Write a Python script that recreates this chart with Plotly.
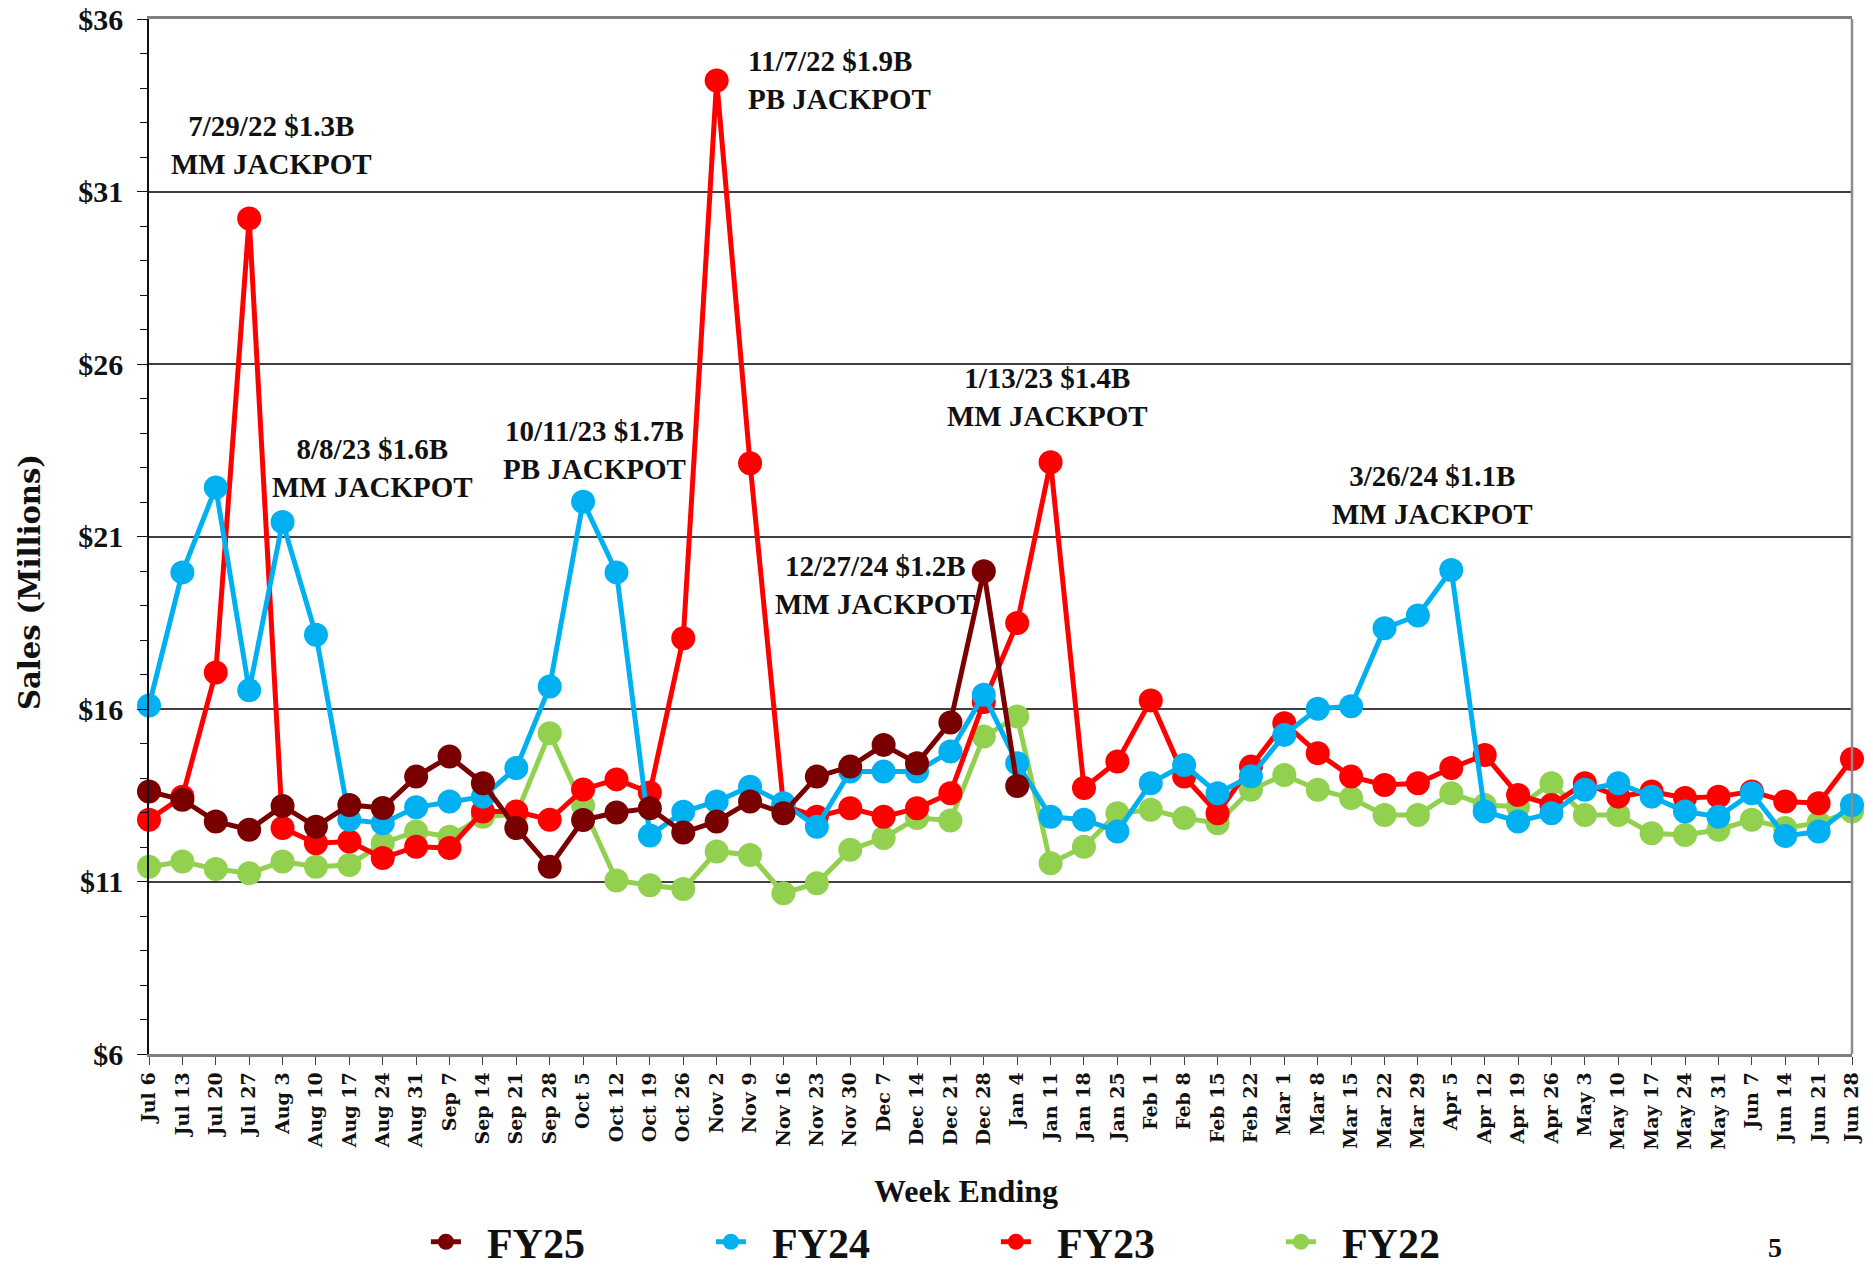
import plotly.graph_objects as go

weeks = ["Jul 6", "Jul 13", "Jul 20", "Jul 27", "Aug 3", "Aug 10", "Aug 17", "Aug 24", "Aug 31",
         "Sep 7", "Sep 14", "Sep 21", "Sep 28", "Oct 5", "Oct 12", "Oct 19", "Oct 26",
         "Nov 2", "Nov 9", "Nov 16", "Nov 23", "Nov 30", "Dec 7", "Dec 14", "Dec 21", "Dec 28",
         "Jan 4", "Jan 11", "Jan 18", "Jan 25", "Feb 1", "Feb 8", "Feb 15", "Feb 22",
         "Mar 1", "Mar 8", "Mar 15", "Mar 22", "Mar 29", "Apr 5", "Apr 12", "Apr 19", "Apr 26",
         "May 3", "May 10", "May 17", "May 24", "May 31", "Jun 7", "Jun 14", "Jun 21", "Jun 28"]

fy25 = [13.61, 13.37, 12.74, 12.50, 13.19, 12.59, 13.22, 13.13, 14.04, 14.62, 13.85, 12.55,
        11.43, 12.78, 13.0, 13.12, 12.42, 12.74, 13.32, 12.98, 14.04, 14.33, 14.96, 14.43,
        15.61, 19.99, 13.77]

fy24 = [16.10, 19.96, 22.42, 16.54, 21.42, 18.15, 12.79, 12.69, 13.15, 13.32, 13.46, 14.29,
        16.65, 22.01, 19.96, 12.33, 13.02, 13.32, 13.75, 13.27, 12.59, 14.19, 14.19, 14.19,
        14.77, 16.41, 14.43, 12.88, 12.79, 12.45, 13.85, 14.38, 13.56, 14.05, 15.25, 16.01,
        16.08, 18.34, 18.71, 20.03, 13.03, 12.74, 12.98, 13.66, 13.85, 13.46, 13.03, 12.88,
        13.56, 12.32, 12.45, 13.22]

fy23 = [12.79, 13.46, 17.06, 30.22, 12.55, 12.11, 12.16, 11.68, 12.01, 11.97, 13.03, 13.03,
        12.79, 13.67, 13.96, 13.58, 18.05, 34.22, 23.12, 13.2, 12.88, 13.12, 12.88, 13.12,
        13.56, 16.2, 18.49, 23.15, 13.71, 14.48, 16.25, 14.04, 12.98, 14.33, 15.59, 14.72,
        14.04, 13.80, 13.85, 14.29, 14.67, 13.51, 13.22, 13.85, 13.46, 13.61, 13.42, 13.46,
        13.61, 13.32, 13.27, 14.55]

fy22 = [11.43, 11.58, 11.36, 11.24, 11.58, 11.43, 11.48, 12.11, 12.45, 12.30, 12.88, 12.95,
        15.30, 13.2, 11.03, 10.89, 10.78, 11.87, 11.77, 10.66, 10.95, 11.92, 12.26, 12.84,
        12.77, 15.2, 15.78, 11.53, 12.01, 12.98, 13.08, 12.84, 12.69, 13.66, 14.09, 13.66,
        13.42, 12.93, 12.93, 13.56, 13.22, 13.17, 13.85, 12.93, 12.93, 12.40, 12.35, 12.50,
        12.79, 12.55, 12.7, 13.03]

series = [("FY22", fy22, "#92D050"), ("FY23", fy23, "#FF0000"),
          ("FY24", fy24, "#00B0F0"), ("FY25", fy25, "#7A0000")]

notes = [
    ("7/29/22 $1.3B<br>MM JACKPOT", 3.68, 32.36, "center"),
    ("11/7/22 $1.9B<br>PB JACKPOT", 17.88, 34.23, "left"),
    ("7/19/23 $1.0B<br>PB JACKPOT", -0.16, 23.58, "center"),
    ("8/8/23 $1.6B<br>MM JACKPOT", 6.68, 23.0, "center"),
    ("10/11/23 $1.7B<br>PB JACKPOT", 13.35, 23.51, "center"),
    ("1/13/23 $1.4B<br>MM JACKPOT", 26.9, 25.03, "center"),
    ("12/27/24 $1.2B<br>MM JACKPOT", 21.77, 19.58, "center"),
    ("3/26/24 $1.1B<br>MM JACKPOT", 38.43, 22.19, "center"),
]

SERIF = "Liberation Serif"
WIDE = "DejaVu Serif"

fig = go.Figure()
for name, vals, col in series:
    fig.add_trace(go.Scatter(
        x=weeks[:len(vals)], y=vals, name="\u00a0\u00a0" + name, mode="lines+markers",
        line=dict(color=col, width=5),
        marker=dict(color=col, size=24),
        cliponaxis=False,
    ))

for text, xv, yv, anchor in notes:
    fig.add_annotation(x=xv, y=yv, xref="x", yref="y", text=text, showarrow=False,
                       xanchor=anchor, yanchor="middle", align=anchor,
                       font=dict(family=SERIF, size=29, color="#111111", weight="bold"))

fig.add_annotation(x=-0.0699, y=0.456, xref="paper", yref="paper", text="Sales (Millions)",
                   textangle=-90, showarrow=False, xanchor="center", yanchor="middle",
                   font=dict(family=WIDE, size=29, color="#111111", weight="bold"))
fig.add_annotation(x=0.48, y=-0.132, xref="paper", yref="paper", text="Week Ending",
                   showarrow=False, xanchor="center", yanchor="middle",
                   font=dict(family=SERIF, size=32, color="#111111", weight="bold"))
fig.add_annotation(x=0.955, y=-0.1874, xref="paper", yref="paper", text="5",
                   showarrow=False, xanchor="center", yanchor="middle",
                   font=dict(family=SERIF, size=28, color="#111111", weight="bold"))

fig.add_shape(type="line", xref="paper", yref="paper", x0=1, x1=1, y0=0, y1=1,
              line=dict(color="#8c8c8c", width=2.5), layer="above")

fig.update_layout(
    width=1873, height=1266,
    margin=dict(l=149, r=21, t=19, b=212, autoexpand=False),
    paper_bgcolor="white", plot_bgcolor="white",
    showlegend=True,
    legend=dict(orientation="h", xref="container", yref="container",
                x=0.2274, xanchor="left", y=0.019, yanchor="middle",
                traceorder="reversed", entrywidth=240, entrywidthmode="pixels",
                font=dict(family=SERIF, size=42, color="#111111", weight="bold"),
                bgcolor="rgba(0,0,0,0)"),
    xaxis=dict(type="category", categoryorder="array", categoryarray=weeks,
               range=[0, 51], tickangle=-90, ticks="outside", ticklen=8,
               tickcolor="#404040", showline=True, linecolor="#7f7f7f", linewidth=2.5,
               mirror=True, showgrid=False, zeroline=False, automargin=False,
               tickfont=dict(family=WIDE, size=19, color="#111111", weight="bold")),
    yaxis=dict(range=[6, 36], tick0=6, dtick=5, tickprefix="$", ticks="outside",
               ticklen=10, tickcolor="#111111", showline=True, linecolor="#111111",
               linewidth=1.5, showgrid=True, gridcolor="#404040", gridwidth=1.5,
               zeroline=False, automargin=False, ticklabelstandoff=8,
               ticklabeloverflow="allow",
               minor=dict(dtick=1, tick0=6, ticks="outside", ticklen=7,
                          tickcolor="#111111", showgrid=False),
               tickfont=dict(family=SERIF, size=30, color="#111111", weight="bold")),
    yaxis2=dict(overlaying="y", side="left", range=[6, 36], showgrid=False,
                showticklabels=False, ticks="", zeroline=False, showline=False,
                automargin=False,
                minor=dict(dtick=1, tick0=6, ticks="inside", ticklen=7,
                           tickcolor="#111111", showgrid=False)),
)

fig.write_html("out.html", config={"displayModeBar": False},
               post_script="document.body.style.margin='0px';document.body.style.overflow='hidden';")
